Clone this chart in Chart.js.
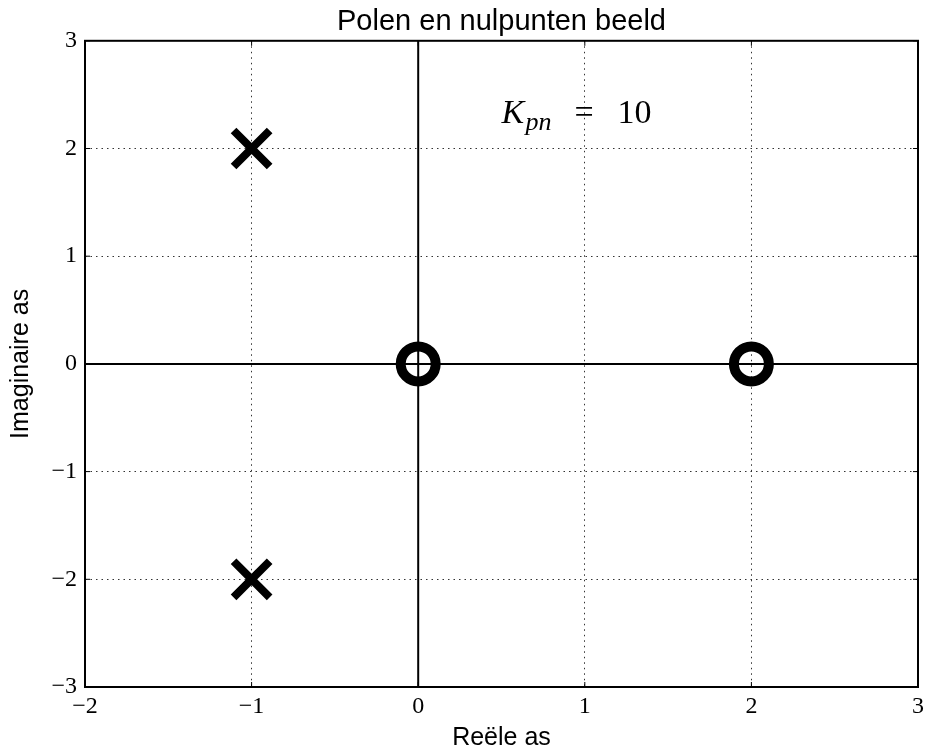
<!DOCTYPE html>
<html>
<head>
<meta charset="utf-8">
<script src="https://cdn.jsdelivr.net/npm/chart.js@4/dist/chart.umd.min.js"></script>
<style>
  html, body { margin: 0; padding: 0; background: #fff; }
  canvas { display: block; }
</style>
</head>
<body>
<canvas id="pzMap" width="925" height="753"></canvas>
<script>
// polen (x) en nulpunten (o)
const poleRe = [-1, -1];
const poleIm = [2, -2];
const zeroRe = [0, 2];
const zeroIm = [0, 0];

// assen door de oorsprong
const realAxisX = [-2, 3];
const imagAxisY = [-3, 3];

const xTickValues = [-2, -1, 0, 1, 2, 3];
const yTickValues = [-3, -2, -1, 0, 1, 2, 3];

const gainName = 'K';
const gainSub = 'pn';
const gainValue = 10;

const serif = '"Liberation Serif", "DejaVu Serif", serif';
const sans = '"Liberation Sans", Arial, sans-serif';

const toPoints = (xs, ys) => xs.map((x, i) => ({ x: x, y: ys[i] }));
const minus = v => String(v).replace('-', '\u2212');

// kader, ticks naar binnen en de K-tekst
const framePlugin = {
  id: 'frame',
  afterDraw(chart) {
    const { ctx, chartArea: a, scales } = chart;
    ctx.save();
    ctx.strokeStyle = '#000';
    ctx.lineWidth = 1;
    xTickValues.forEach(v => {
      const px = scales.x.getPixelForValue(v);
      ctx.beginPath();
      ctx.moveTo(px, a.bottom); ctx.lineTo(px, a.bottom - 5);
      ctx.moveTo(px, a.top); ctx.lineTo(px, a.top + 5);
      ctx.stroke();
    });
    yTickValues.forEach(v => {
      const py = scales.y.getPixelForValue(v);
      ctx.beginPath();
      ctx.moveTo(a.left, py); ctx.lineTo(a.left + 5, py);
      ctx.moveTo(a.right, py); ctx.lineTo(a.right - 5, py);
      ctx.stroke();
    });
    ctx.lineWidth = 2;
    ctx.strokeRect(a.left, a.top, a.right - a.left, a.bottom - a.top);

    // K_pn = 10
    const x0 = scales.x.getPixelForValue(0.5);
    const y0 = scales.y.getPixelForValue(2.24);
    ctx.fillStyle = '#000';
    ctx.textBaseline = 'alphabetic';
    ctx.textAlign = 'left';
    ctx.font = 'italic 34px ' + serif;
    ctx.fillText(gainName, x0, y0);
    ctx.font = 'italic 26px ' + serif;
    ctx.fillText(gainSub, x0 + 24, y0 + 7);
    ctx.font = '34px ' + serif;
    ctx.fillText('=', x0 + 73, y0);
    ctx.fillText(String(gainValue), x0 + 116, y0);
    ctx.restore();
  }
};

new Chart(document.getElementById('pzMap'), {
  type: 'scatter',
  data: {
    datasets: [
      {
        label: 'polen',
        data: toPoints(poleRe, poleIm),
        pointStyle: 'crossRot',
        pointRadius: 25.5,
        pointBorderWidth: 8,
        pointBorderColor: '#000',
        pointBackgroundColor: 'rgba(0,0,0,0)',
        order: 0
      },
      {
        label: 'nulpunten',
        data: toPoints(zeroRe, zeroIm),
        pointStyle: 'circle',
        pointRadius: 17.5,
        pointBorderWidth: 10,
        pointBorderColor: '#000',
        pointBackgroundColor: 'rgba(0,0,0,0)',
        order: 0
      },
      {
        label: 'reele as',
        data: toPoints(realAxisX, [0, 0]),
        showLine: true,
        borderColor: '#000',
        borderWidth: 2,
        pointRadius: 0,
        order: 1
      },
      {
        label: 'imaginaire as',
        data: toPoints([0, 0], imagAxisY),
        showLine: true,
        borderColor: '#000',
        borderWidth: 2,
        pointRadius: 0,
        order: 1
      }
    ]
  },
  options: {
    responsive: false,
    animation: false,
    events: [],
    layout: { autoPadding: false, padding: { left: 0, right: 7, top: 0, bottom: 0 } },
    plugins: {
      legend: { display: false },
      tooltip: { enabled: false },
      title: {
        display: true,
        text: 'Polen en nulpunten beeld',
        fullSize: false,
        color: '#000',
        font: { family: sans, size: 29, weight: 'normal' },
        padding: { top: 5, bottom: 1 }
      }
    },
    scales: {
      x: {
        type: 'linear',
        min: -2,
        max: 3,
        afterBuildTicks: s => { s.ticks = xTickValues.map(v => ({ value: v })); },
        afterFit: s => { s.height = 66; s.paddingLeft = 0; s.paddingRight = 0; },
        ticks: {
          autoSkip: false,
          maxRotation: 0,
          padding: 5,
          color: '#000',
          font: { family: serif, size: 24 },
          callback: v => minus(v)
        },
        grid: { color: '#333', lineWidth: 1, drawTicks: false },
        border: { display: false, dash: [1.5, 4] },
        title: {
          display: true,
          text: 'Reële as',
          color: '#000',
          font: { family: sans, size: 25 },
          padding: { top: 0, bottom: 0 }
        }
      },
      y: {
        type: 'linear',
        min: -3,
        max: 3,
        afterBuildTicks: s => { s.ticks = yTickValues.map(v => ({ value: v })); },
        afterFit: s => { s.width = 85; s.paddingTop = 0; s.paddingBottom = 0; },
        ticks: {
          autoSkip: false,
          padding: 8,
          color: '#000',
          font: { family: serif, size: 24 },
          callback: v => minus(v)
        },
        grid: { color: '#333', lineWidth: 1, drawTicks: false },
        border: { display: false, dash: [1.5, 4] },
        title: {
          display: true,
          text: 'Imaginaire as',
          color: '#000',
          font: { family: sans, size: 25 },
          padding: { top: 6, bottom: 0 }
        }
      }
    }
  },
  plugins: [framePlugin]
});
</script>
</body>
</html>
